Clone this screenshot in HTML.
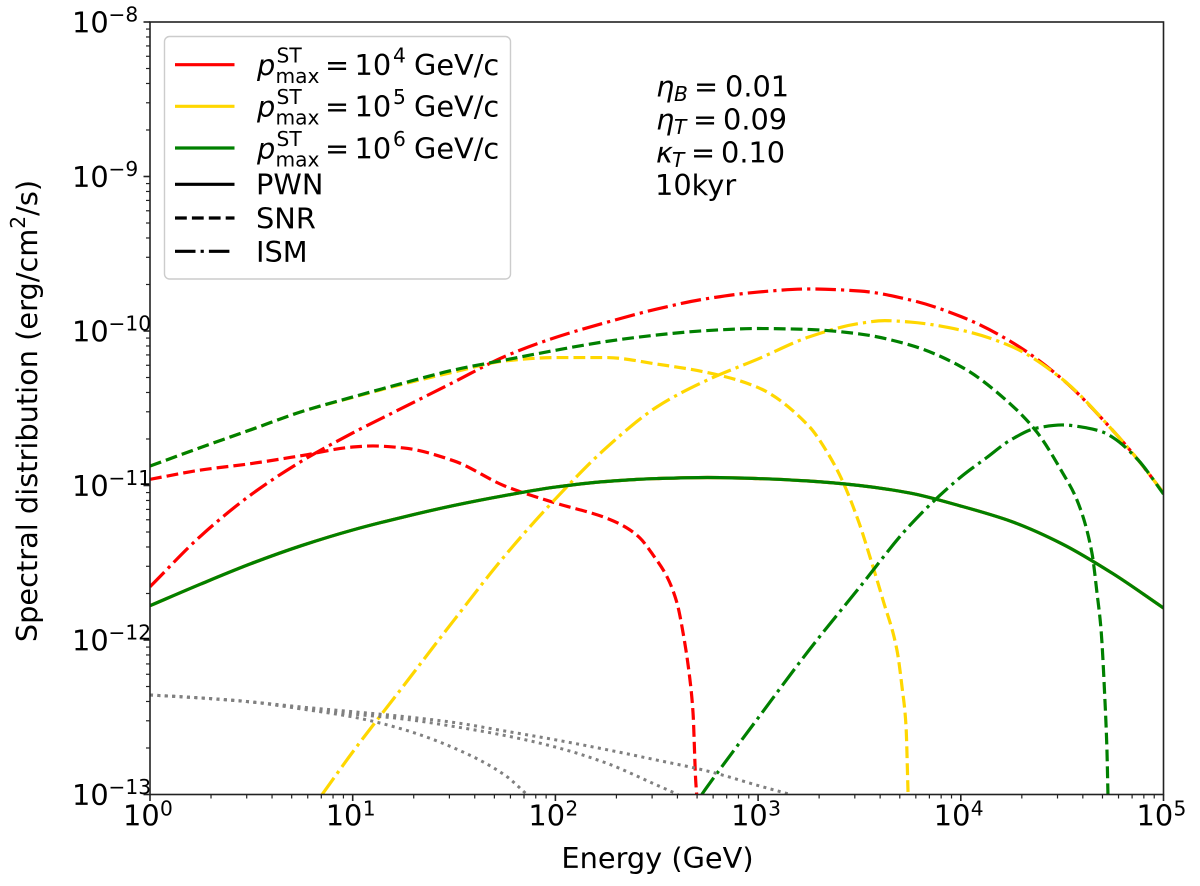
<!DOCTYPE html>
<html lang="en">
<head>
<meta charset="utf-8">
<title>Spectral distribution vs energy</title>
<style>
html,body{margin:0;padding:0;background:#fff;}
svg{display:block;}
text{font-family:"DejaVu Sans","Liberation Sans",sans-serif;fill:#000;}
.it{font-style:italic;}
.lg{font-size:28.8px;}
.sm{font-size:20.2px;}
</style>
</head>
<body>
<svg id="chart" xmlns="http://www.w3.org/2000/svg" width="1200" height="886" viewBox="0 0 1200 886">
<defs><clipPath id="plot-clip"><rect x="150" y="22" width="1013.5" height="772.5"/></clipPath></defs>
<rect x="150" y="22" width="1013.5" height="772.5" fill="#fff"/>
<g id="series" clip-path="url(#plot-clip)" fill="none"></g>
<rect x="150" y="22" width="1013.5" height="772.5" fill="none" stroke="#222" stroke-width="1.6"/>
<g id="ticks"></g>
<text x="657.5" y="868" text-anchor="middle" font-size="28.8">Energy (GeV)</text>
<text transform="translate(37,411) rotate(-90)" text-anchor="middle" font-size="28.8">Spectral distribution (erg/cm<tspan font-size="20.2" dy="-12">2</tspan><tspan dy="12">/s)</tspan></text>

<g>
<rect x="164.5" y="36.5" width="346" height="242.5" rx="5" ry="5" fill="#fff" fill-opacity="0.8" stroke="#ccc" stroke-width="1.4"/>
<g>
<line x1="175" x2="234.5" y1="64.7" y2="64.7" stroke="#ff0000" stroke-width="3.2"/>
<text class="lg it" x="257" y="75">p</text><text class="sm" x="276.5" y="62.5">ST</text><text class="sm" x="275.5" y="83">max</text>
<text class="lg" x="325" y="75">=</text><text class="lg" x="354.5" y="75">10</text><text class="sm" x="393" y="62.5">4</text>
<text class="lg" x="414" y="75">GeV/c</text>
</g>
<g>
<line x1="175" x2="234.5" y1="106.3" y2="106.3" stroke="#ffd700" stroke-width="3.2"/>
<text class="lg it" x="257" y="116.6">p</text><text class="sm" x="276.5" y="104.1">ST</text><text class="sm" x="275.5" y="124.6">max</text>
<text class="lg" x="325" y="116.6">=</text><text class="lg" x="354.5" y="116.6">10</text><text class="sm" x="393" y="104.1">5</text>
<text class="lg" x="414" y="116.6">GeV/c</text>
</g>
<g>
<line x1="175" x2="234.5" y1="148" y2="148" stroke="#008000" stroke-width="3.2"/>
<text class="lg it" x="257" y="158.3">p</text><text class="sm" x="276.5" y="145.8">ST</text><text class="sm" x="275.5" y="166.3">max</text>
<text class="lg" x="325" y="158.3">=</text><text class="lg" x="354.5" y="158.3">10</text><text class="sm" x="393" y="145.8">6</text>
<text class="lg" x="414" y="158.3">GeV/c</text>
</g>
<g>
<line x1="175" x2="234.5" y1="184.3" y2="184.3" stroke="#000" stroke-width="3.2"/>
<text class="lg" x="256" y="194.5">PWN</text>
</g>
<g>
<line x1="175" x2="234.5" y1="218" y2="218" stroke="#000" stroke-width="3.2" stroke-dasharray="11.8 5.1"/>
<text class="lg" x="256" y="228.5">SNR</text>
</g>
<g>
<line x1="175" x2="234.5" y1="251.3" y2="251.3" stroke="#000" stroke-width="3.2" stroke-dasharray="20.5 5.1 3.2 5.1"/>
<text class="lg" x="256" y="262">ISM</text>
</g>
</g>

<g>
<g>
<text class="lg it" x="656" y="96.7">η</text><text class="sm it" x="674" y="101">B</text><text class="lg" x="694" y="96.7">=</text><text class="lg" x="725" y="96.7">0.01</text>
</g>
<g>
<text class="lg it" x="656" y="129.5">η</text><text class="sm it" x="674" y="134">T</text><text class="lg" x="693" y="129.5">=</text><text class="lg" x="723" y="129.5">0.09</text>
</g>
<g>
<text class="lg it" x="656" y="162.5">κ</text><text class="sm it" x="672" y="167">T</text><text class="lg" x="691" y="162.5">=</text><text class="lg" x="721" y="162.5">0.10</text>
</g>
<text class="lg" x="655" y="195">10kyr</text>
</g>
</svg>

<script>
// Axis tick exponents
const xTickExponents = [0, 1, 2, 3, 4, 5];
const yTickExponents = [-8, -9, -10, -11, -12, -13];

// All series: log10(Energy / GeV) and log10(flux / erg cm^-2 s^-1)
const pwnLogE = [0, 0.25, 0.5, 0.75, 1, 1.25, 1.5, 1.75, 2, 2.25, 2.5, 2.75, 3, 3.25, 3.5, 3.75, 4, 4.25, 4.5, 4.75, 5];
const pwnLogF = [-11.778, -11.638, -11.505, -11.388, -11.288, -11.204, -11.129, -11.065, -11.010, -10.974, -10.955, -10.948, -10.955, -10.971, -11.000, -11.049, -11.133, -11.233, -11.378, -11.570, -11.793];

const redSnrLogE = [0, 0.25, 0.5, 0.75, 1, 1.1, 1.25, 1.5, 1.75, 2, 2.25, 2.353, 2.417, 2.482, 2.551, 2.6, 2.63, 2.664, 2.679, 2.692, 2.697];
const redSnrLogF = [-10.960, -10.900, -10.858, -10.806, -10.751, -10.744, -10.757, -10.841, -11.003, -11.113, -11.210, -11.275, -11.340, -11.450, -11.592, -11.761, -11.955, -12.259, -12.472, -12.906, -13.000];

const redIsmLogE = [0, 0.25, 0.5, 0.75, 1, 1.25, 1.5, 1.75, 2, 2.25, 2.5, 2.75, 3, 3.25, 3.5, 3.75, 4, 4.25, 4.5, 4.75, 4.875, 5];
const redIsmLogF = [-11.655, -11.327, -11.058, -10.841, -10.660, -10.495, -10.330, -10.165, -10.042, -9.945, -9.858, -9.790, -9.748, -9.728, -9.741, -9.799, -9.906, -10.071, -10.311, -10.644, -10.835, -11.049];

const goldSnrLogE = [0, 0.25, 0.5, 0.75, 1, 1.25, 1.5, 1.75, 2, 2.25, 2.5, 2.75, 3, 3.25, 3.34, 3.414, 3.5, 3.552, 3.616, 3.685, 3.71, 3.73, 3.738, 3.74];
const goldSnrLogF = [-10.874, -10.754, -10.638, -10.521, -10.430, -10.343, -10.265, -10.194, -10.172, -10.172, -10.214, -10.269, -10.366, -10.615, -10.783, -10.964, -11.249, -11.463, -11.741, -12.065, -12.304, -12.563, -12.906, -13.000];

const goldIsmLogE = [0.849, 1, 1.25, 1.5, 1.75, 2, 2.25, 2.5, 2.75, 3, 3.25, 3.5, 3.625, 3.75, 4, 4.25, 4.5, 4.75, 4.875, 5];
const goldIsmLogF = [-13.000, -12.725, -12.298, -11.871, -11.456, -11.087, -10.757, -10.492, -10.317, -10.181, -10.039, -9.951, -9.933, -9.942, -9.994, -10.100, -10.311, -10.644, -10.835, -11.049];

const greenSnrLogE = [0, 0.25, 0.5, 0.75, 1, 1.25, 1.5, 1.75, 2, 2.25, 2.5, 2.75, 3, 3.25, 3.5, 3.75, 4, 4.25, 4.375, 4.5, 4.573, 4.647, 4.672, 4.692, 4.711, 4.721, 4.726];
const greenSnrLogF = [-10.874, -10.754, -10.638, -10.521, -10.427, -10.337, -10.252, -10.188, -10.125, -10.068, -10.026, -9.997, -9.984, -9.990, -10.019, -10.091, -10.230, -10.479, -10.654, -10.913, -11.094, -11.437, -11.696, -11.935, -12.388, -12.712, -13.000];

const greenIsmLogE = [2.722, 2.75, 3, 3.25, 3.5, 3.75, 4, 4.125, 4.25, 4.375, 4.5, 4.625, 4.7, 4.75, 4.875, 5];
const greenIsmLogF = [-13.000, -12.948, -12.505, -12.068, -11.660, -11.256, -10.945, -10.822, -10.702, -10.628, -10.608, -10.628, -10.654, -10.689, -10.835, -11.055];

const greyUpperLogE = [0, 0.25, 0.5, 0.75, 1, 1.25, 1.5, 1.75, 2, 2.25, 2.5, 2.75, 3, 3.16];
const greyUpperLogF = [-12.356, -12.375, -12.401, -12.434, -12.464, -12.495, -12.534, -12.589, -12.646, -12.709, -12.777, -12.848, -12.942, -13.000];

const greyMiddleLogE = [0, 0.25, 0.5, 0.75, 1, 1.25, 1.5, 1.75, 2, 2.25, 2.5, 2.605];
const greyMiddleLogF = [-12.356, -12.375, -12.401, -12.443, -12.479, -12.511, -12.560, -12.618, -12.693, -12.796, -12.939, -13.000];

const greyLowerLogE = [0, 0.25, 0.5, 0.75, 1, 1.25, 1.5, 1.75, 1.86];
const greyLowerLogF = [-12.356, -12.375, -12.401, -12.447, -12.498, -12.579, -12.699, -12.874, -13.000];

const NS = 'http://www.w3.org/2000/svg';
function xScale(logE) { return 150 + (logE - 0) * 202.7; }
function yScale(logF) { return 22 + (-8 - logF) * 154.5; }

// Monotone cubic path through the points
function smoothPath(xs, ys) {
  const n = xs.length, d = [], m = [];
  for (let i = 0; i < n - 1; i++) d.push((ys[i + 1] - ys[i]) / (xs[i + 1] - xs[i]));
  m[0] = d[0];
  m[n - 1] = d[n - 2];
  for (let i = 1; i < n - 1; i++) {
    if (d[i - 1] * d[i] <= 0) { m[i] = 0; continue; }
    const h0 = xs[i] - xs[i - 1], h1 = xs[i + 1] - xs[i];
    m[i] = (h0 + h1) * 3 / ((2 * h1 + h0) / d[i - 1] + (h1 + 2 * h0) / d[i]);
  }
  let p = 'M' + xs[0].toFixed(2) + ' ' + ys[0].toFixed(2);
  for (let i = 0; i < n - 1; i++) {
    const h = (xs[i + 1] - xs[i]) / 3;
    p += 'C' + (xs[i] + h).toFixed(2) + ' ' + (ys[i] + m[i] * h).toFixed(2) + ' '
      + (xs[i + 1] - h).toFixed(2) + ' ' + (ys[i + 1] - m[i + 1] * h).toFixed(2) + ' '
      + xs[i + 1].toFixed(2) + ' ' + ys[i + 1].toFixed(2);
  }
  return p;
}

const seriesLayer = document.getElementById('series');
function addCurve(name, logE, logF, color, dash, width) {
  const path = document.createElementNS(NS, 'path');
  
  
  path.setAttribute('d', smoothPath(logE.map(xScale), logF.map(yScale)));
  path.setAttribute('stroke', color);
  path.setAttribute('stroke-width', width);
  if (dash) path.setAttribute('stroke-dasharray', dash);
  seriesLayer.appendChild(path);
}

const DASHED = '11.8 5.1', DASHDOT = '20.5 5.1 3.2 5.1', DOTTED = '3 4.4';
addCurve('pwn-line-red', pwnLogE, pwnLogF, '#ff0000', null, 3.2);
addCurve('snr-line-red', redSnrLogE, redSnrLogF, '#ff0000', DASHED, 3.2);
addCurve('ism-line-red', redIsmLogE, redIsmLogF, '#ff0000', DASHDOT, 3.2);
addCurve('pwn-line-gold', pwnLogE, pwnLogF, '#ffd700', null, 3.2);
addCurve('snr-line-gold', goldSnrLogE, goldSnrLogF, '#ffd700', DASHED, 3.2);
addCurve('ism-line-gold', goldIsmLogE, goldIsmLogF, '#ffd700', DASHDOT, 3.2);
addCurve('pwn-line-green', pwnLogE, pwnLogF, '#008000', null, 3.2);
addCurve('snr-line-green', greenSnrLogE, greenSnrLogF, '#008000', DASHED, 3.2);
addCurve('ism-line-green', greenIsmLogE, greenIsmLogF, '#008000', DASHDOT, 3.2);
addCurve('grey-dotted-upper', greyUpperLogE, greyUpperLogF, '#808080', DOTTED, 3);
addCurve('grey-dotted-middle', greyMiddleLogE, greyMiddleLogF, '#808080', DOTTED, 3);
addCurve('grey-dotted-lower', greyLowerLogE, greyLowerLogF, '#808080', DOTTED, 3);

const tickLayer = document.getElementById('ticks');
function tickLine(x1, y1, x2, y2, w) {
  const l = document.createElementNS(NS, 'line');
  
  
  l.setAttribute('x1', x1);
  l.setAttribute('y1', y1);
  l.setAttribute('x2', x2);
  l.setAttribute('y2', y2);
  l.setAttribute('stroke', '#222');
  l.setAttribute('stroke-width', w);
  tickLayer.appendChild(l);
}
function tickText(name, str, x, y, size) {
  const t = document.createElementNS(NS, 'text');
  
  
  t.setAttribute('x', x);
  t.setAttribute('y', y);
  t.setAttribute('font-size', size);
  t.textContent = str;
  tickLayer.appendChild(t);
}

xTickExponents.forEach(function (e, i) {
  const x = xScale(e);
  tickLine(x, 794.5, x, 801, 1.6);
  tickText('x-tick-label-base', '10', x - 27, 825.7, 28.8);
  tickText('x-tick-label-exponent', String(e), x + 10, 815.5, 20.2);
  if (i < xTickExponents.length - 1) {
    for (let k = 2; k < 10; k++) {
      const mx = xScale(e + Math.log10(k));
      tickLine(mx, 794.5, mx, 798.5, 1.2);
    }
  }
});
yTickExponents.forEach(function (e, i) {
  const y = yScale(e);
  tickLine(143.5, y, 150, y, 1.6);
  tickText('y-tick-label-base', '10', 72, y + 10.5, 28.8);
  tickText('y-tick-label-exponent', '\u2212' + Math.abs(e), 108.5, y - 0.5, 20.2);
  if (i > 0) {
    for (let k = 2; k < 10; k++) {
      const my = yScale(e + Math.log10(k));
      tickLine(146, my, 150, my, 1.2);
    }
  }
});
</script>
</body>
</html>
